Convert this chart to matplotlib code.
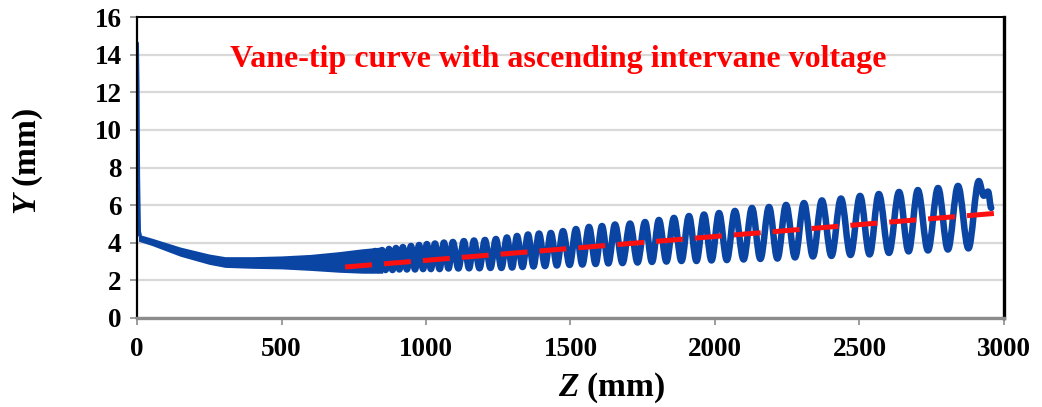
import matplotlib
matplotlib.use("Agg")
import matplotlib.pyplot as plt
from matplotlib.path import Path
from matplotlib.patches import PathPatch

plt.rcParams['font.family'] = ['Liberation Serif', 'DejaVu Serif']
plt.rcParams['font.weight'] = 'bold'
plt.rcParams['mathtext.fontset'] = 'custom'
plt.rcParams['mathtext.bfit'] = 'Liberation Serif:italic:bold'
plt.rcParams['mathtext.rm'] = 'Liberation Serif:bold'

# entrance spike of the vane tip
spike_z = [0, 2, 4, 7, 10]
spike_y = [14.6, 12.3, 7.5, 4.6, 4.4]

# dense modulation region, drawn as its envelope
band_z = [5, 50, 150, 250, 305, 400, 500, 600, 700, 780, 850]
band_top = [4.45, 4.25, 3.77, 3.40, 3.26, 3.26, 3.30, 3.38, 3.53, 3.68, 3.78]
band_bot = [4.08, 3.86, 3.28, 2.85, 2.69, 2.64, 2.61, 2.53, 2.43, 2.38, 2.38]

# crests of the vane modulation
peak_z = [824, 848, 872, 896, 920, 948, 976, 1003, 1031, 1062, 1093, 1131,
          1166, 1204, 1242, 1280, 1315, 1353, 1391, 1432, 1474, 1519, 1564,
          1609, 1654, 1706, 1758, 1806, 1858, 1910, 1962, 2014, 2069, 2128,
          2187, 2246, 2308, 2370, 2436, 2502, 2567, 2637, 2702, 2772, 2841, 2913]
peak_y = [3.56, 3.61, 3.67, 3.72, 3.77, 3.83, 3.88, 3.93, 3.96, 4.01, 4.04, 4.09,
          4.12, 4.15, 4.20, 4.28, 4.36, 4.44, 4.49, 4.52, 4.62, 4.73, 4.84,
          4.89, 4.97, 5.02, 5.10, 5.21, 5.32, 5.42, 5.50, 5.58, 5.69, 5.85,
          5.90, 6.01, 6.11, 6.25, 6.35, 6.49, 6.59, 6.70, 6.80, 6.91, 7.02, 7.28]

# troughs of the vane modulation (one before each crest)
trough_z = [811, 836, 860, 884, 908, 934, 962, 990, 1017, 1047, 1078, 1112,
            1149, 1185, 1223, 1261, 1298, 1334, 1372, 1412, 1453, 1497, 1541,
            1587, 1631, 1680, 1732, 1782, 1832, 1884, 1936, 1988, 2041, 2099,
            2157, 2216, 2277, 2339, 2403, 2469, 2535, 2602, 2670, 2737, 2806, 2877]
trough_y = [2.55, 2.55, 2.55, 2.55, 2.58, 2.58, 2.58, 2.60, 2.60, 2.60, 2.63, 2.63,
            2.64, 2.64, 2.66, 2.66, 2.68, 2.71, 2.74, 2.76, 2.79, 2.82, 2.84,
            2.87, 2.90, 2.92, 2.95, 2.98, 3.00, 3.03, 3.03, 3.06, 3.08, 3.11,
            3.14, 3.16, 3.22, 3.27, 3.30, 3.35, 3.38, 3.46, 3.54, 3.59, 3.64, 3.70]

# exit end of the vane
tail_z = [2930, 2945, 2956]
tail_y = [6.50, 6.72, 5.85]

# average aperture trend
trend_z = [720, 3000]
trend_y = [2.71, 5.60]

z_ticks = [0, 500, 1000, 1500, 2000, 2500, 3000]
y_ticks = [0, 2, 4, 6, 8, 10, 12, 14, 16]

blue = '#0B45A3'

fig = plt.figure(figsize=(10.42, 4.07), dpi=100)
ax = fig.add_axes([0.1315, 0.2187, 0.832, 0.7395])

ax.plot(spike_z, spike_y, color=blue, lw=2.8, solid_capstyle='round')
ax.fill_between(band_z, band_bot, band_top, color=blue, lw=0)

# smooth wave: cubic segments between alternating troughs and crests,
# flat tangents at each extremum
wave_z, wave_y = [], []
for tz, ty, pz, py in zip(trough_z, trough_y, peak_z, peak_y):
    wave_z += [tz, pz]
    wave_y += [ty, py]
wave_z += tail_z
wave_y += tail_y

verts = [(wave_z[0], wave_y[0])]
codes = [Path.MOVETO]
for i in range(1, len(wave_z)):
    z0, y0 = wave_z[i - 1], wave_y[i - 1]
    z1, y1 = wave_z[i], wave_y[i]
    dz = z1 - z0
    verts += [(z0 + 0.36 * dz, y0), (z1 - 0.36 * dz, y1), (z1, y1)]
    codes += [Path.CURVE4] * 3
ax.add_patch(PathPatch(Path(verts, codes), fill=False, edgecolor=blue,
                       lw=4.7, joinstyle='round', capstyle='round'))

ax.plot(trend_z, trend_y, color='#FF1010', lw=3.6, dashes=(5.4, 2.4),
        dash_capstyle='butt')

ax.set_xlim(0, 3000)
ax.set_ylim(0, 16)
ax.set_xticks(z_ticks)
ax.set_yticks(y_ticks)
ax.grid(axis='y', color='#D9D9D9', lw=1.6)
ax.set_axisbelow(True)

for side in ['left', 'top', 'right']:
    ax.spines[side].set_color('black')
ax.spines['left'].set_linewidth(1.6)
ax.spines['top'].set_linewidth(1.4)
ax.spines['right'].set_linewidth(2.4)
ax.spines['bottom'].set_color('#8C8C8C')
ax.spines['bottom'].set_linewidth(2.4)

ax.tick_params(axis='both', colors='#8C8C8C', length=5, width=1.2,
               labelcolor='black', labelsize=19.5)
ax.tick_params(axis='x', pad=9)
ax.tick_params(axis='y', pad=6)

ax.text(1457, 13.75, 'Vane-tip curve with ascending intervane voltage',
        color='red', fontsize=23, ha='center', va='center')

ax.text(-0.126, 0.52, r'$\mathbfit{Y}$ (mm)', transform=ax.transAxes,
        rotation=90, ha='center', va='center', fontsize=24)
ax.text(0.547, -0.233, r'$\mathbfit{Z}$ (mm)', transform=ax.transAxes,
        ha='center', va='center', fontsize=24)

fig.savefig('out.png', dpi=100)
